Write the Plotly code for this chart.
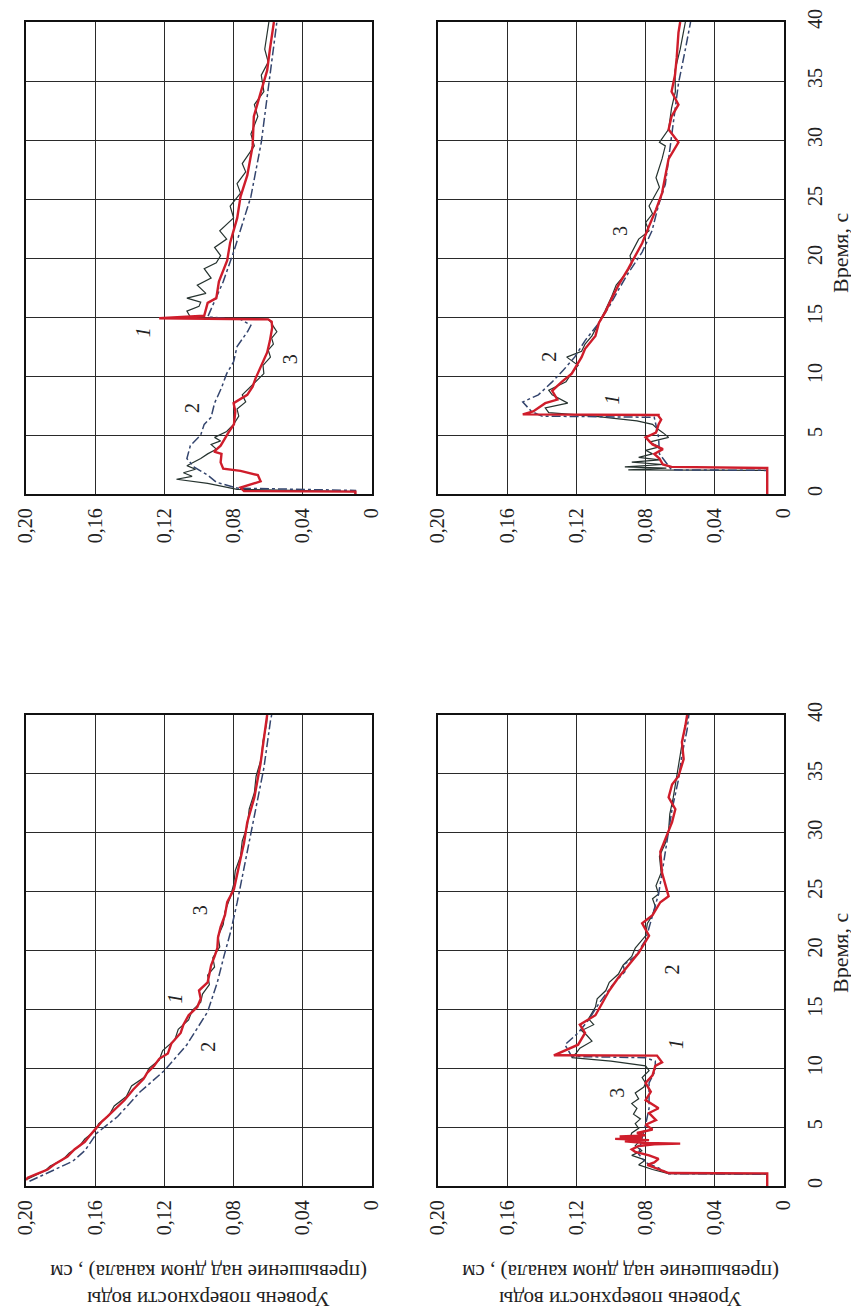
import plotly.graph_objects as go

# ---------------- data (time, s ; level, m) ----------------
level_ticks = [0, 0.04, 0.08, 0.12, 0.16, 0.20]
level_ticktext = ["0", "0,04", "0,08", "0,12", "0,16", "0,20"]
time_ticks = [0, 5, 10, 15, 20, 25, 30, 35, 40]

# Panel A (upper-left): surge arrives at ~15 s
tA1 = [0, 0.2, 0.25, 0.54, 1.07, 1.6, 1.96, 2.14, 2.68, 3.4, 3.6, 4.1, 5.2, 5.9, 7.0, 7.7, 8.4, 9.1, 9.8, 10.9,
       12.0, 13.0, 14.1, 14.6, 14.8, 14.9, 15.0, 15.1, 16.2, 16.6, 18.0, 19.8, 21.3, 23.4, 25.2, 27.0, 29.5, 32.0,
       34.0, 35.9, 37.7, 40]
hA1 = [0.0096, 0.0096, 0.074, 0.076, 0.0644, 0.066, 0.076, 0.086, 0.0875, 0.087, 0.0913, 0.0875, 0.083, 0.0798,
       0.079, 0.080, 0.0721, 0.069, 0.0673, 0.064, 0.0606, 0.059, 0.0577, 0.058, 0.060, 0.123, 0.110, 0.097, 0.095,
       0.090, 0.0885, 0.0837, 0.082, 0.0779, 0.076, 0.0721, 0.069, 0.0683, 0.0644, 0.0606, 0.059, 0.0567]
tA2 = [0, 0.3, 0.5, 1.0, 1.6, 2.3, 3.0, 4.1, 5.0, 5.9, 6.5, 7.7, 9.0, 10.2, 11.2, 12.5, 13.75, 14.3, 14.8, 15.0,
       16.0, 18.0, 20.5, 22.3, 25.2, 29.8, 34.8, 40]
hA2 = [0.0096, 0.0096, 0.078, 0.090, 0.095, 0.103, 0.107, 0.105, 0.099, 0.097, 0.093, 0.091, 0.087, 0.084, 0.080,
       0.078, 0.072, 0.070, 0.076, 0.095, 0.092, 0.086, 0.080, 0.076, 0.070, 0.064, 0.0596, 0.055]
tA3 = [0, 0.2, 0.4, 0.9, 1.25, 1.5, 1.8, 2.1, 2.4, 2.7, 3.0, 3.4, 3.8, 4.2, 4.5, 4.8, 5.3, 5.9, 6.6, 7.2, 7.8, 8.4,
       9.1, 9.6, 10.2, 10.9, 11.6, 12.2, 12.7, 13.2, 13.75, 14.2, 14.5, 14.8, 14.9, 15.0, 15.5, 15.9, 16.25, 16.6,
       17.0, 17.7, 18.3, 19.1, 19.6, 20.2, 20.9, 21.6, 22.3, 23.4, 24.4, 25.5, 26.3, 27.3, 28.0, 29.5, 30.5, 32.0,
       33.0, 34.1, 35.5, 36.6, 37.7, 40]
hA3 = [0.0096, 0.0096, 0.078, 0.095, 0.113, 0.104, 0.109, 0.102, 0.107, 0.103, 0.099, 0.095, 0.090, 0.093, 0.0875,
       0.091, 0.084, 0.080, 0.077, 0.078, 0.073, 0.075, 0.070, 0.067, 0.0625, 0.063, 0.0587, 0.060, 0.057, 0.058,
       0.055, 0.057, 0.058, 0.060, 0.080, 0.105, 0.107, 0.100, 0.099, 0.107, 0.096, 0.101, 0.093, 0.097, 0.090,
       0.0875, 0.091, 0.084, 0.088, 0.080, 0.082, 0.076, 0.078, 0.073, 0.075, 0.068, 0.070, 0.066, 0.068, 0.0625,
       0.064, 0.060, 0.062, 0.0596]

# Panel B (upper-right): surge arrives at ~7 s
tB1 = [0, 2.2, 2.3, 2.5, 3.0, 3.4, 3.8, 4.2, 4.8, 5.2, 5.9, 6.3, 6.6, 6.7, 6.75, 7.0, 7.7, 8.0, 8.75, 9.5, 10.2,
       10.9, 11.6, 12.3, 13.4, 14.5, 15.5, 16.6, 17.7, 19.1, 20.2, 21.25, 22.7, 24.1, 25.5, 27.0, 28.4, 29.8, 30.9,
       32.0, 33.0, 34.1, 35.5, 37.0, 39.1, 40]
hB1 = [0.0097, 0.0097, 0.065, 0.070, 0.072, 0.075, 0.070, 0.076, 0.080, 0.074, 0.0725, 0.071, 0.0725, 0.0725,
       0.151, 0.145, 0.138, 0.131, 0.134, 0.1285, 0.1227, 0.120, 0.117, 0.115, 0.109, 0.107, 0.103, 0.0995, 0.0957,
       0.090, 0.086, 0.082, 0.078, 0.074, 0.0705, 0.0686, 0.0667, 0.061, 0.0667, 0.065, 0.061, 0.065, 0.063, 0.062,
       0.061, 0.060]
tB2 = [0, 2.0, 2.05, 2.6, 3.4, 4.8, 5.9, 6.5, 6.6, 7.0, 7.8, 8.4, 9.5, 10.5, 11.6, 13.0, 14.5, 15.9, 17.3, 18.75,
       20.5, 22.3, 24.5, 26.25, 28.4, 30.5, 32.7, 34.8, 37.7, 40]
hB2 = [0.0097, 0.0097, 0.065, 0.068, 0.072, 0.0725, 0.074, 0.075, 0.14, 0.146, 0.151, 0.142, 0.134, 0.1275, 0.121,
       0.115, 0.107, 0.101, 0.0957, 0.0899, 0.082, 0.0763, 0.0725, 0.0686, 0.0667, 0.0647, 0.0628, 0.061, 0.057,
       0.054]
tB3 = [0, 2.0, 2.05, 2.2, 2.3, 2.5, 2.7, 2.9, 3.1, 3.4, 3.7, 4.0, 4.4, 4.8, 5.2, 5.5, 5.9, 6.2, 6.6, 6.9, 7.3, 7.7,
       8.4, 8.8, 9.5, 10.2, 10.9, 11.6, 12.1, 12.7, 13.4, 14.5, 15.5, 16.6, 17.7, 18.75, 19.5, 20.2, 21.6, 22.3,
       23.0, 23.75, 24.4, 26.0, 26.8, 28.4, 29.5, 29.8, 30.9, 32.7, 34.1, 35.9, 37.7, 40]
hB3 = [0.0097, 0.0097, 0.090, 0.068, 0.092, 0.070, 0.088, 0.072, 0.084, 0.076, 0.080, 0.072, 0.078, 0.0667, 0.070,
       0.073, 0.076, 0.085, 0.110, 0.136, 0.138, 0.125, 0.134, 0.136, 0.126, 0.123, 0.119, 0.1256, 0.117, 0.115,
       0.111, 0.107, 0.1035, 0.100, 0.097, 0.091, 0.088, 0.089, 0.084, 0.078, 0.080, 0.076, 0.078, 0.072, 0.074,
       0.0705, 0.0686, 0.072, 0.0667, 0.065, 0.0628, 0.063, 0.060, 0.057]

# Panel C (lower-left): smooth decay
tC1 = [0.5, 0.7, 1.0, 1.4, 1.9, 2.5, 3.1, 3.75, 4.3, 5.0, 5.5, 5.9, 6.6, 7.3, 8.2, 9.1, 9.6, 10.2, 10.8, 11.25,
       12.1, 13.0, 13.7, 14.5, 15.2, 15.9, 16.6, 17.3, 18.0, 18.75, 19.5, 20.2, 21.1, 22.0, 23.0, 24.1, 25.2, 26.6,
       27.8, 29.1, 30.9, 33.0, 34.5, 35.9, 38.0, 40]
hC1 = [0.20, 0.199, 0.194, 0.1875, 0.183, 0.176, 0.172, 0.166, 0.163, 0.159, 0.156, 0.153, 0.148, 0.143, 0.138,
       0.132, 0.130, 0.126, 0.123, 0.118, 0.116, 0.1106, 0.109, 0.106, 0.101, 0.099, 0.100, 0.095, 0.094, 0.093,
       0.091, 0.0894, 0.089, 0.0875, 0.085, 0.0837, 0.0798, 0.0779, 0.076, 0.074, 0.0721, 0.068, 0.066, 0.0644,
       0.0625, 0.0606]
tC2 = [0.4, 0.8, 1.3, 2.1, 3.0, 4.5, 5.9, 8.0, 9.8, 12.0, 14.8, 17.3, 19.5, 21.6, 24.1, 27.0, 29.5, 32.7, 35.5,
       39.5, 40]
hC2 = [0.198, 0.192, 0.185, 0.173, 0.166, 0.159, 0.147, 0.134, 0.120, 0.107, 0.095, 0.0894, 0.0856, 0.0817, 0.0779,
       0.074, 0.0702, 0.066, 0.0625, 0.0587, 0.058]
tC3 = [0.6, 0.9, 1.3, 1.7, 2.2, 2.8, 3.4, 4.0, 4.7, 5.3, 6.0, 6.8, 7.6, 8.5, 9.3, 10.0, 10.7, 11.5, 12.4, 13.3,
       14.1, 14.9, 15.6, 16.3, 17.1, 17.9, 18.6, 19.4, 20.3, 21.2, 22.2, 23.3, 24.5, 25.6, 26.8, 28.0, 29.3, 30.6,
       32.0, 33.4, 34.8, 36.3, 37.8, 39.2, 40]
hC3 = [0.199, 0.195, 0.189, 0.186, 0.179, 0.175, 0.169, 0.166, 0.160, 0.158, 0.152, 0.149, 0.142, 0.139, 0.131,
       0.129, 0.123, 0.121, 0.114, 0.112, 0.106, 0.104, 0.099, 0.098, 0.094, 0.095, 0.091, 0.092, 0.088, 0.089,
       0.086, 0.085, 0.082, 0.080, 0.079, 0.076, 0.075, 0.072, 0.071, 0.068, 0.067, 0.064, 0.063, 0.061, 0.0606]

# Panel D (lower-right): surge arrives at ~11 s
tD1 = [0, 1.07, 1.1, 1.4, 1.6, 1.8, 2.0, 2.3, 2.6, 2.9, 3.1, 3.4, 3.55, 3.6, 3.65, 3.8, 3.9, 4.0, 4.1, 4.2, 4.3,
       4.5, 4.8, 5.2, 5.6, 6.2, 6.6, 7.3, 8.0, 8.75, 9.4, 10.2, 10.5, 11.0, 11.07, 11.1, 11.6, 12.0, 13.0, 13.7,
       14.5, 15.5, 16.6, 17.7, 18.75, 19.8, 21.25, 22.3, 23.0, 24.1, 24.6, 25.5, 26.6, 28.4, 29.5, 30.9, 32.0,
       33.0, 34.1, 34.8, 36.25, 37.7, 39.1, 40]
hD1 = [0.0097, 0.0097, 0.0667, 0.0725, 0.076, 0.079, 0.075, 0.0725, 0.078, 0.086, 0.088, 0.084, 0.075, 0.060,
       0.080, 0.092, 0.078, 0.0976, 0.082, 0.095, 0.080, 0.085, 0.076, 0.080, 0.074, 0.078, 0.0725, 0.080, 0.077,
       0.080, 0.076, 0.0744, 0.0705, 0.0734, 0.0734, 0.133, 0.125, 0.119, 0.115, 0.118, 0.109, 0.105, 0.101,
       0.0957, 0.0899, 0.084, 0.078, 0.082, 0.076, 0.0715, 0.0667, 0.0686, 0.0705, 0.0715, 0.0686, 0.0647, 0.0628,
       0.0667, 0.0647, 0.061, 0.058, 0.059, 0.057, 0.056]
tD2 = [0, 1.0, 1.05, 1.5, 2.0, 2.7, 4.1, 5.2, 6.6, 8.75, 9.8, 10.6, 10.9, 11.0, 12.0, 13.0, 14.1, 15.5, 17.0, 17.7,
       18.2, 18.75, 19.5, 20.9, 23.0, 24.8, 26.6, 28.4, 30.2, 32.0, 34.5, 36.6, 38.75, 40]
hD2 = [0.0097, 0.0097, 0.0667, 0.072, 0.080, 0.084, 0.082, 0.080, 0.078, 0.078, 0.0744, 0.0744, 0.080, 0.1227,
       0.1266, 0.119, 0.113, 0.107, 0.0995, 0.095, 0.092, 0.093, 0.086, 0.080, 0.076, 0.0725, 0.0705, 0.0686,
       0.0667, 0.0647, 0.061, 0.059, 0.056, 0.055]
tD3 = [0, 1.0, 1.05, 1.4, 1.8, 2.2, 2.6, 3.0, 3.4, 3.75, 4.1, 4.5, 4.9, 5.3, 5.7, 6.1, 6.6, 7.0, 7.4, 7.9, 8.4,
       8.75, 9.2, 9.8, 10.2, 10.6, 10.9, 11.3, 11.7, 12.3, 12.8, 13.2, 13.7, 14.2, 15.2, 15.9, 16.6, 17.3, 18.0,
       18.75, 19.5, 20.2, 21.25, 22.3, 23.0, 23.75, 24.4, 24.8, 25.5, 26.6, 28.0, 29.1, 30.2, 31.6, 33.0, 34.8,
       36.6, 38.4, 40]
hD3 = [0.0097, 0.0097, 0.0667, 0.076, 0.084, 0.080, 0.088, 0.082, 0.086, 0.084, 0.089, 0.088, 0.084, 0.086, 0.083,
       0.087, 0.085, 0.088, 0.084, 0.086, 0.081, 0.080, 0.082, 0.078, 0.080, 0.100, 0.1227, 0.120, 0.118, 0.111,
       0.114, 0.117, 0.110, 0.113, 0.109, 0.108, 0.103, 0.101, 0.0957, 0.093, 0.088, 0.086, 0.080, 0.079, 0.076,
       0.0744, 0.076, 0.0725, 0.074, 0.071, 0.072, 0.0686, 0.0667, 0.066, 0.064, 0.062, 0.060, 0.058, 0.0556]

# curve label positions (level, time, text)
labels_A = [(0.1327, 13.75, "<i>1</i>"), (0.104, 7.3, "2"), (0.047, 11.4, "3")]
labels_B = [(0.0995, 8.0, "<i>1</i>"), (0.136, 11.6, "2"), (0.0947, 22.3, "3")]
labels_C = [(0.114, 15.9, "<i>1</i>"), (0.095, 11.8, "2"), (0.099, 23.4, "3")]
labels_D = [(0.0628, 12.1, "<i>1</i>"), (0.0647, 18.4, "2"), (0.0966, 7.9, "3")]

time_title = "Время, с"
level_title = "Уровень поверхности воды<br>(превышение над дном канала) , см"

# ---------------- figure ----------------
W, H = 859, 1313
FONT = "Liberation Serif"

def px_x(p):
    return p / W

def px_y(p):
    return (H - p) / H

col_dom = {"L": [px_x(18), px_x(364)], "R": [px_x(430), px_x(776)]}
row_dom = {"T": [px_y(486), px_y(14)], "B": [px_y(1178), px_y(707)]}

panels = [
    ("", "L", "T", (tA1, hA1), (tA2, hA2), (tA3, hA3), labels_A),
    ("2", "R", "T", (tB1, hB1), (tB2, hB2), (tB3, hB3), labels_B),
    ("3", "L", "B", (tC1, hC1), (tC2, hC2), (tC3, hC3), labels_C),
    ("4", "R", "B", (tD1, hD1), (tD2, hD2), (tD3, hD3), labels_D),
]

fig = go.Figure()
annotations = []
layout = {}

for sfx, col, row, c1, c2, c3, labs in panels:
    xa, ya = "x" + sfx, "y" + sfx
    # curve 3: thin dark grey noisy
    fig.add_trace(go.Scatter(x=c3[1], y=c3[0], xaxis=xa, yaxis=ya, mode="lines",
                             line=dict(color="#26332f", width=1.2), showlegend=False))
    # curve 2: dash-dot blue
    fig.add_trace(go.Scatter(x=c2[1], y=c2[0], xaxis=xa, yaxis=ya, mode="lines",
                             line=dict(color="#34456e", width=1.5, dash="dashdot"), showlegend=False))
    # curve 1: red solid
    fig.add_trace(go.Scatter(x=c1[1], y=c1[0], xaxis=xa, yaxis=ya, mode="lines",
                             line=dict(color="#cf1d2b", width=2.4), showlegend=False))
    layout["xaxis" + sfx] = dict(
        domain=col_dom[col], anchor=ya, range=[0.2, 0], tickvals=level_ticks, ticktext=level_ticktext,
        tickangle=-90, ticks="", ticklabelstandoff=4, showgrid=True, gridcolor="#2a2a2a", gridwidth=1.3,
        zeroline=False, showline=True, mirror=True, linecolor="#111", linewidth=2.4,
        tickfont=dict(family=FONT, size=20, color="#222"), automargin=False, fixedrange=True)
    layout["yaxis" + sfx] = dict(
        domain=row_dom[row], anchor=xa, range=[0, 40], tickvals=time_ticks, side="right",
        showticklabels=(col == "R"), tickangle=-90, ticks="", ticklabelstandoff=12,
        showgrid=True, gridcolor="#2a2a2a", gridwidth=1.3, zeroline=False, showline=True, mirror=True,
        linecolor="#111", linewidth=2.4, tickfont=dict(family=FONT, size=20, color="#222"),
        automargin=False, fixedrange=True)
    for lx, ly, txt in labs:
        annotations.append(dict(x=lx, y=ly, xref=xa, yref=ya, text=txt, showarrow=False, textangle=-90,
                                xanchor="center", yanchor="middle",
                                font=dict(family=FONT, size=20, color="#222")))

# axis titles (figure is rotated by 90 degrees)
for yc in [245, 945]:
    annotations.append(dict(x=px_x(832), y=px_y(yc), xref="paper", yref="paper", text=time_title,
                            showarrow=False, textangle=-90, xanchor="center", yanchor="middle",
                            font=dict(family=FONT, size=22, color="#222")))
for xc in [201, 613]:
    annotations.append(dict(x=px_x(xc), y=px_y(1278), xref="paper", yref="paper", text=level_title,
                            showarrow=False, textangle=180, align="center", xanchor="center",
                            yanchor="middle", font=dict(family=FONT, size=21, color="#222")))

fig.update_layout(width=W, height=H, margin=dict(l=0, r=0, t=0, b=0), paper_bgcolor="white",
                  plot_bgcolor="white", annotations=annotations, **layout)

fig.write_html("out.html")
